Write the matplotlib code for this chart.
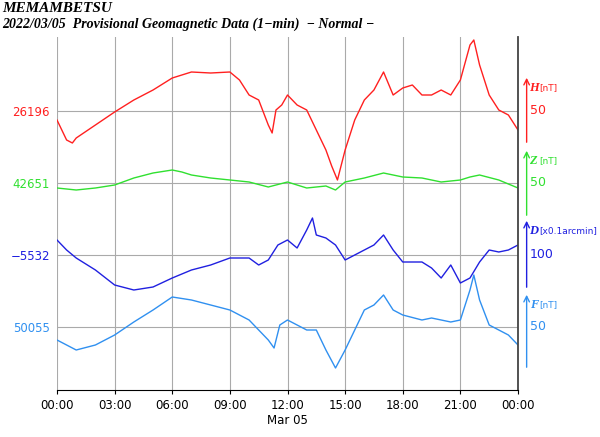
import numpy as np
import matplotlib
matplotlib.use("Agg")
import matplotlib.pyplot as plt

hours_H = [0,0.5,0.8,1,2,3,4,5,6,7,8,9,9.5,10,10.5,11,11.2,11.4,11.7,12,12.5,13,13.5,14,14.3,14.6,15,15.5,16,16.5,17,17.5,18,18.5,19,19.5,20,20.5,21,21.5,21.7,22,22.5,23,23.5,24]
H = [-9,-29,-32,-27,-14,-1,11,21,33,39,38,39,31,16,11,-14,-22,1,6,16,6,1,-19,-39,-55,-69,-39,-9,11,21,39,16,23,26,16,16,21,16,31,66,71,46,16,1,-4,-19]
hours_Z = [0,1,2,3,4,5,6,6.5,7,8,9,10,11,12,13,14,14.5,15,16,17,18,19,20,21,21.5,22,23,24]
Z = [-5,-7,-5,-2,5,10,13,11,8,5,3,1,-4,1,-5,-3,-7,1,5,10,6,5,1,3,6,8,3,-5]
hours_D = [0,0.5,1,2,3,4,5,6,7,8,9,10,10.5,11,11.5,12,12.5,13,13.3,13.5,14,14.5,15,15.5,16,16.5,17,17.5,18,19,19.5,20,20.5,21,21.5,22,22.5,23,23.5,24]
D = [15,5,-3,-15,-30,-35,-32,-23,-15,-10,-3,-3,-10,-5,10,15,7,25,37,20,17,10,-5,0,5,10,20,5,-7,-7,-13,-23,-10,-28,-23,-7,5,3,5,10]
hours_F = [0,0.5,1,2,3,4,5,6,7,8,9,10,10.5,11,11.3,11.6,12,13,13.5,14,14.5,15,15.5,16,16.5,17,17.5,18,19,19.5,20,20.5,21,21.5,21.7,22,22.5,23,23.5,24]
F = [-13,-18,-23,-18,-8,5,17,30,27,22,17,7,-3,-13,-21,2,7,-3,-3,-23,-41,-23,-3,17,22,32,17,12,7,9,7,5,7,37,52,27,2,-3,-8,-18]

components = ["H", "Z", "D", "F"]
units = ["[nT]", "[nT]", "[x0.1arcmin]", "[nT]"]
base_labels = ["26196", "42651", "\u22125532", "50055"]
right_ticks = ["50", "50", "100", "50"]
colors = ["#ff2020", "#30e030", "#2020e0", "#3090f0"]
xticks = ["00:00", "03:00", "06:00", "09:00", "12:00\nMar 05", "15:00", "18:00", "21:00", "00:00"]

offsets = [0, -72, -144, -216]
series = [(hours_H, H), (hours_Z, Z), (hours_D, D), (hours_F, F)]

fig = plt.figure(figsize=(6, 4.37), dpi=100)
ax = fig.add_axes([57/600, 1-390/437, (518-57)/600, (390-37)/437])
ax.set_xlim(0, 24)
ax.set_ylim(-279, 74)

for (hx, v), off, c in zip(series, offsets, colors):
    ax.plot(hx, np.array(v) + off, color=c, lw=1)

ax.set_xticks(np.arange(0, 25, 3))
ax.set_xticklabels(xticks, fontsize=8.5, family="DejaVu Sans")
ax.set_yticks(offsets)
ax.set_yticklabels(base_labels, fontsize=8.5)
for lab, c in zip(ax.get_yticklabels(), colors):
    lab.set_color(c)
ax.tick_params(axis="y", length=0, pad=5)
ax.tick_params(axis="x", length=3)
ax.grid(True, color="#aaaaaa", lw=0.8)
for s in ["top", "left"]:
    ax.spines[s].set_visible(False)
ax.spines["right"].set_color("#444444")
ax.spines["right"].set_linewidth(1.3)

tips = [36, -37, -107, -181]
bottoms = [-34, -107, -179, -259]
for c, t, b, comp, u, rt, off in zip(colors, tips, bottoms, components, units, right_ticks, offsets):
    ax.annotate("", xy=(24.45, t), xytext=(24.45, b), xycoords="data",
                arrowprops=dict(arrowstyle="->", color=c, lw=1), annotation_clip=False)
    ax.text(24.6, t - 13, comp, color=c, fontsize=9, fontweight="bold", style="italic",
            family="Liberation Serif", va="center", ha="left", clip_on=False)
    ax.text(25.1, t - 13, u, color=c, fontsize=6.5, va="center", ha="left", clip_on=False)
    ax.text(24.6, off, rt, color=c, fontsize=9, va="center", ha="left", clip_on=False)

fig.text(2/600, 1-9/437, "MEMAMBETSU", fontsize=11, fontweight="bold", style="italic",
         family="Liberation Serif", va="center")
fig.text(2/600, 1-24/437, "2022/03/05  Provisional Geomagnetic Data (1\u2212min)  \u2212 Normal \u2212",
         fontsize=10, fontweight="bold", style="italic", family="Liberation Serif", va="center")

fig.savefig("out.png", dpi=100)
